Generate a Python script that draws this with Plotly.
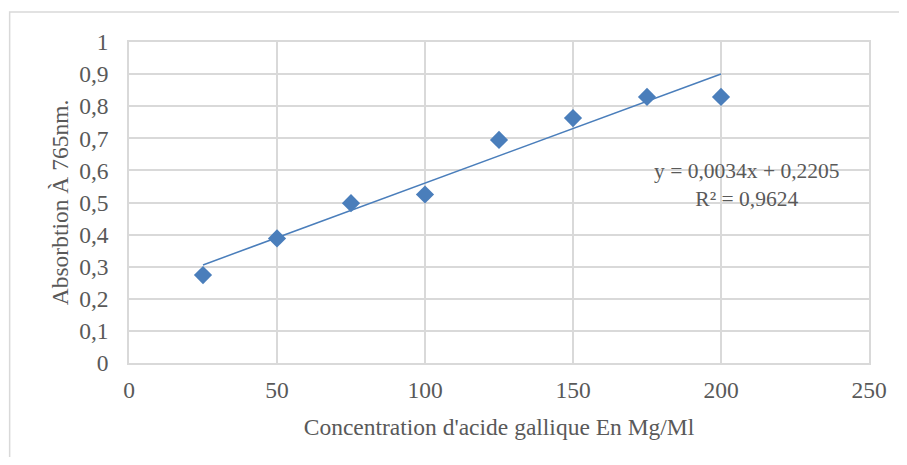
import numpy as np
import plotly.graph_objects as go

concentration = [25, 50, 75, 100, 125, 150, 175, 200]
absorbance = [0.274, 0.388, 0.498, 0.525, 0.695, 0.763, 0.829, 0.829]
slope = 0.0034
intercept = 0.2205
r2_text = "R² = 0,9624"
eq_text = "y = 0,0034x + 0,2205"
y_ticks = [0, 0.1, 0.2, 0.3, 0.4, 0.5, 0.6, 0.7, 0.8, 0.9, 1]
y_tick_labels = ["0", "0,1", "0,2", "0,3", "0,4", "0,5", "0,6", "0,7", "0,8", "0,9", "1"]
x_ticks = [0, 50, 100, 150, 200, 250]

blue = "#4a7ebb"
grid = "#d9d9d9"
txt = "#595959"
font = "Liberation Serif, Times New Roman, serif"
fs = 23.5

trend_x = np.array([min(concentration), max(concentration)])
trend_y = slope * trend_x + intercept

fig = go.Figure()
fig.add_trace(go.Scatter(x=trend_x, y=trend_y, mode="lines",
                         line=dict(color=blue, width=1.5), hoverinfo="skip"))
fig.add_trace(go.Scatter(x=concentration, y=absorbance, mode="markers",
                         marker=dict(symbol="diamond", size=14, color=blue,
                                     line=dict(width=0))))

# page has an 8px body margin; figure coordinates = page coordinates - 8
W, H = 891, 449
ml, mt = 121, 34
mr = W - 865
mb = H - 355
pw, ph = W - ml - mr, H - mt - mb

fig.add_shape(type="rect", xref="paper", yref="paper",
              x0=(1 - ml) / pw, x1=(W + 20 - ml) / pw,
              y0=(H - mb - (H + 20)) / ph, y1=(H - mb - 4) / ph,
              line=dict(color=grid, width=1.5), fillcolor="rgba(0,0,0,0)", layer="below")

fig.add_annotation(xref="paper", yref="paper",
                   x=(742 - ml) / pw, y=(H - mb - 177) / ph,
                   xanchor="center", yanchor="middle",
                   text=eq_text + "<br>" + r2_text, showarrow=False,
                   font=dict(family=font, size=fs - 2, color=txt), align="center")

fig.update_layout(
    width=W, height=H,
    margin=dict(l=ml, r=mr, t=mt, b=mb),
    paper_bgcolor="white", plot_bgcolor="white",
    showlegend=False,
    font=dict(family=font, size=fs, color=txt),
    xaxis=dict(range=[0, 250], tickvals=x_ticks, showgrid=True, gridcolor=grid,
               gridwidth=1.5, zeroline=False, showline=True, linecolor=grid,
               linewidth=1.5, mirror=True, ticks="", ticklen=0,
               tickfont=dict(size=fs, color=txt), ticklabelstandoff=5,
               title=dict(text="Concentration d'acide gallique En Mg/Ml",
                          font=dict(size=fs, color=txt), standoff=17)),
    yaxis=dict(range=[0, 1], tickvals=y_ticks, ticktext=y_tick_labels,
               showgrid=True, gridcolor=grid, gridwidth=1.5, zeroline=False,
               showline=True, linecolor=grid, linewidth=1.5, mirror=True,
               ticks="", tickfont=dict(size=fs, color=txt), ticklabelstandoff=14,
               title=dict(text="Absorbtion À 765nm.", font=dict(size=fs, color=txt),
                          standoff=4)),
)

fig.write_html("out.html")
